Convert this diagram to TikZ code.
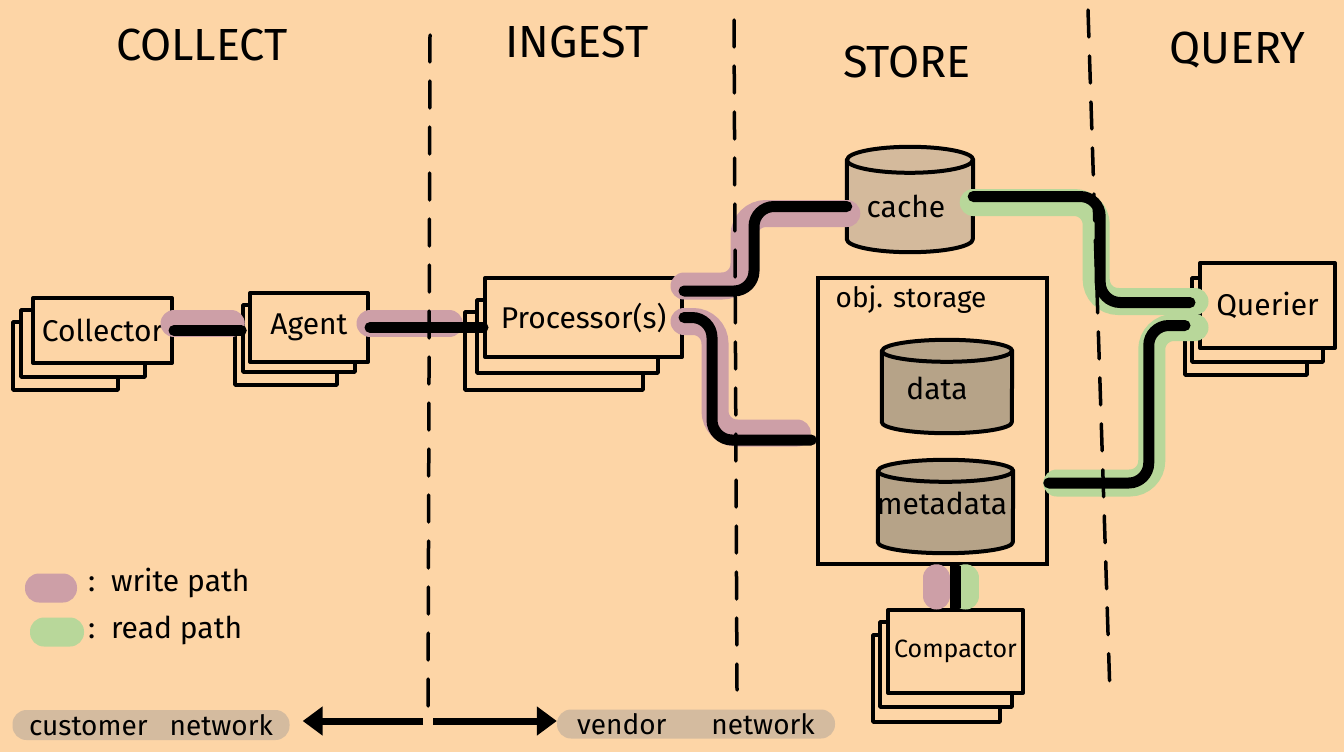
\documentclass[tikz,border=0pt]{standalone}
\usepackage{fontspec}
\setmainfont{Fira Sans}
\usetikzlibrary{arrows.meta,calc}
\definecolor{bg}{HTML}{FDD5A6}
\definecolor{wpath}{HTML}{CD9FA7}
\definecolor{rpath}{HTML}{B8D79A}
\definecolor{cachefill}{HTML}{D4BA9C}
\definecolor{dbfill}{HTML}{B6A388}
\definecolor{pill}{HTML}{D4BB9F}
\tikzset{
  card/.style={draw=black, line width=4pt, fill=bg, line join=round, inner sep=0pt,
    font=\fontsize{30}{34}\selectfont},
  cardback/.style={draw=black, line width=3.5pt, fill=bg, line join=round, inner sep=0pt},
  header/.style={font=\fontsize{45}{50}\selectfont, inner sep=0pt},
  lbl/.style={font=\fontsize{30}{34}\selectfont, inner sep=0pt},
  holder/.style={inner sep=0pt},
  wire/.style={draw=black, line width=11pt, line cap=round, rounded corners=20pt},
  hlw/.style={draw=wpath, line width=27pt, line cap=round, rounded corners=22pt},
  hlr/.style={draw=rpath, line width=27pt, line cap=round, rounded corners=22pt},
  divider/.style={draw=black, line width=3.5pt, line cap=round, dash pattern=on 27pt off 19pt},
  pillnode/.style={inner sep=0pt, rounded corners=14pt, font=\fontsize{28}{32}\selectfont},
  netarrow/.style={draw=black, line width=7pt, -{Triangle[length=20pt,width=28pt]}},
}
\newcommand{\cylbody}[4]{%
  \path[draw=black, line width=4pt, fill=#2, line join=round]
    ([yshift=-#4]#1.north west) -- ([yshift=#4]#1.south west)
    arc[start angle=180, end angle=360, x radius=#3, y radius=#4]
    -- ([yshift=-#4]#1.north east)
    arc[start angle=0, end angle=180, x radius=#3, y radius=#4] -- cycle;
  \draw[line width=4pt] ([yshift=-#4]#1.north west)
    arc[start angle=180, end angle=360, x radius=#3, y radius=#4];}
\begin{document}
\begin{tikzpicture}[x=1pt,y=-1pt]
\useasboundingbox (0,0) rectangle (1344,752);
\fill[bg] (0,0) rectangle (1344,752);

% headers
\node[header] (hcollect) at (202,45) {COLLECT};
\node[header] (hingest) at (577,42) {INGEST};
\node[header] (hstore) at (907,62) {STORE};
\node[header] (hquery) at (1237,50) {QUERY};

% collector
\node[cardback, minimum width=105pt, minimum height=68pt] (coll3) at (65.5,356) {};
\node[cardback, minimum width=124pt, minimum height=67pt] (coll2) at (83,343.5) {};
\node[card, minimum width=139pt, minimum height=65pt] (coll) at (102.5,330.5) {Collector};
% agent
\node[cardback, minimum width=102pt, minimum height=67pt] (agent3) at (286,351.5) {};
\node[cardback, minimum width=112pt, minimum height=67pt] (agent2) at (299,338.5) {};
\node[card, minimum width=118pt, minimum height=69pt] (agent) at (309,327.5) {Agent};
% processor
\node[cardback, minimum width=178pt, minimum height=78pt] (proc3) at (554,351) {};
\node[cardback, minimum width=181pt, minimum height=73pt] (proc2) at (567.5,336.5) {};
\node[card, minimum width=197pt, minimum height=79pt] (proc) at (583.5,317.5) {Processor(s)};
% querier
\node[cardback, minimum width=122pt, minimum height=82pt] (quer3) at (1246,334) {};
\node[cardback, minimum width=131pt, minimum height=84pt] (quer2) at (1257.5,320) {};
\node[card, minimum width=135pt, minimum height=85pt] (quer) at (1267.5,305.5) {Querier};
% compactor
\node[cardback, minimum width=127pt, minimum height=87pt] (comp3) at (936.5,678.5) {};
\node[cardback, minimum width=132pt, minimum height=85pt] (comp2) at (946,664.5) {};
\node[card, minimum width=135pt, minimum height=83pt, font=\fontsize{25}{29}\selectfont] (comp) at (955.5,651.5) {Compactor};

% object storage
\node[draw=black, line width=3.5pt, fill=bg, inner sep=0pt, minimum width=229pt, minimum height=286pt] (storage) at (932.5,421) {};
\node[lbl, font=\fontsize{28}{32}\selectfont] (storlbl) at (911,300) {obj. storage};

% cylinders
\node[holder, minimum width=126pt, minimum height=105pt] (cache) at (910,199.5) {};
\cylbody{cache}{cachefill}{63pt}{13pt}
\node[lbl] (cachelbl) at (906,206) {cache};
\node[holder, minimum width=130pt, minimum height=93pt] (data) at (947,386.5) {};
\cylbody{data}{dbfill}{65pt}{11pt}
\node[lbl] (datalbl) at (937,388) {data};
\node[holder, minimum width=135pt, minimum height=93pt] (meta) at (945.5,506.5) {};
\cylbody{meta}{dbfill}{67.5pt}{11pt}
\node[lbl] (metalbl) at (942,503) {metadata};

% write-path highlights
\draw[hlw, shorten >=10pt] ([yshift=7pt]coll.east) -- ([yshift=7pt]coll.east -| agent2.west);
\draw[hlw, shorten >=14pt] ([yshift=4pt]agent.east) -- ([yshift=4pt]agent.east -| proc3.west);
\draw[hlw] ([yshift=-10pt]proc.north east) -- ++(60,0) |- ([yshift=-14pt]cache.west);
\draw[hlw, shorten >=19pt] ([yshift=-4pt]proc.east) -- ++(31,0) |- ([yshift=-12pt]storage.west);
\draw[hlw, shorten <=12pt, shorten >=12pt] ([xshift=-19pt]comp.north) -- ([xshift=-19pt]comp.north |- storage.south);
% read-path highlights
\draw[hlr] ([yshift=-3pt]cache.east) -- ++(123,0) |- ([xshift=-3pt,yshift=4pt]quer.west);
\draw[hlr, shorten <=8pt] ([yshift=-62pt]storage.east) -- ++(103,0) |- ([xshift=-3pt,yshift=-22pt]quer.west);
\draw[hlr, shorten <=12pt, shorten >=12pt] ([xshift=10pt]comp.north) -- ([xshift=10pt]comp.north |- storage.south);

% dividers
\draw[divider] (430,35) -- (428,717);
\draw[divider] (734,20) -- (737,690);
\draw[divider] (1088,10) -- (1110,695);

% wires
\draw[wire] (coll.east) -- (coll.east -| agent2.west);
\draw[wire] (agent.east) -- (agent.east -| proc.west);
\draw[wire] ([yshift=-15pt]proc.north east) -- ++(70,0) |- ([yshift=-7pt]cache.west);
\draw[wire, shorten >=5pt] (proc.east) -- ++(28,0) |- ([yshift=-19pt]storage.west);
\draw[wire] ([yshift=3pt]cache.east) -- ++(127,0) |- ([xshift=-8pt,yshift=3pt]quer.west);
\draw[wire] ([yshift=-62pt]storage.east) -- ++(100,0) |- ([xshift=-13pt,yshift=-20pt]quer.west);
\draw[draw=black, line width=11pt] (comp.north |- storage.south) -- (comp.north);

% legend
\node[fill=wpath, rounded corners=14pt, minimum width=52pt, minimum height=29pt, inner sep=0pt] (lgw) at (51,588) {};
\node[lbl, anchor=west] (lgwtxt) at (88,583) {:\, write path};
\node[fill=rpath, rounded corners=14pt, minimum width=54pt, minimum height=29pt, inner sep=0pt] (lgr) at (57,632) {};
\node[lbl, anchor=west] (lgrtxt) at (88,630) {:\, read path};

% networks
\coordinate (netsplit) at (428,721);
\node[pillnode, fill=pill, minimum width=277pt, minimum height=30pt] (custpill) at (151,725) {customer\hspace{22pt}network};
\node[pillnode, fill=pill, minimum width=278pt, minimum height=29pt] (vendpill) at (696,724) {vendor\hspace{45pt}network};
\draw[netarrow, shorten >=13pt] ([xshift=-5pt]netsplit) -- (netsplit -| custpill.east);
\draw[netarrow] ([xshift=5pt]netsplit) -- (netsplit -| vendpill.west);
\end{tikzpicture}
\end{document}
